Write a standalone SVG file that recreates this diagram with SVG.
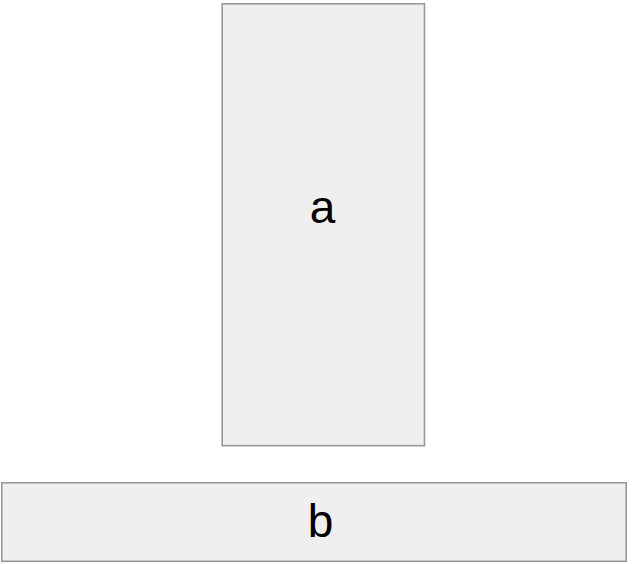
<svg xmlns="http://www.w3.org/2000/svg" width="640" height="564" viewBox="0 0 640 564">
<style>
.box{fill:#efefef;stroke:#999999;stroke-width:1.6}
.lbl{font-family:"Liberation Sans",Arial,sans-serif;font-size:46px;fill:#000;text-anchor:middle}
</style>
<rect width="640" height="564" fill="#ffffff"/>
<g id="connectors"></g>
<g id="node-a">
<rect class="box" x="222.2" y="3.8" width="202.3" height="441.9"/>
<text class="lbl" x="322.5" y="223">a</text>
</g>
<g id="node-b">
<rect class="box" x="1.8" y="482.8" width="624.4" height="78.5"/>
<text class="lbl" x="320.5" y="537">b</text>
</g>
</svg>
